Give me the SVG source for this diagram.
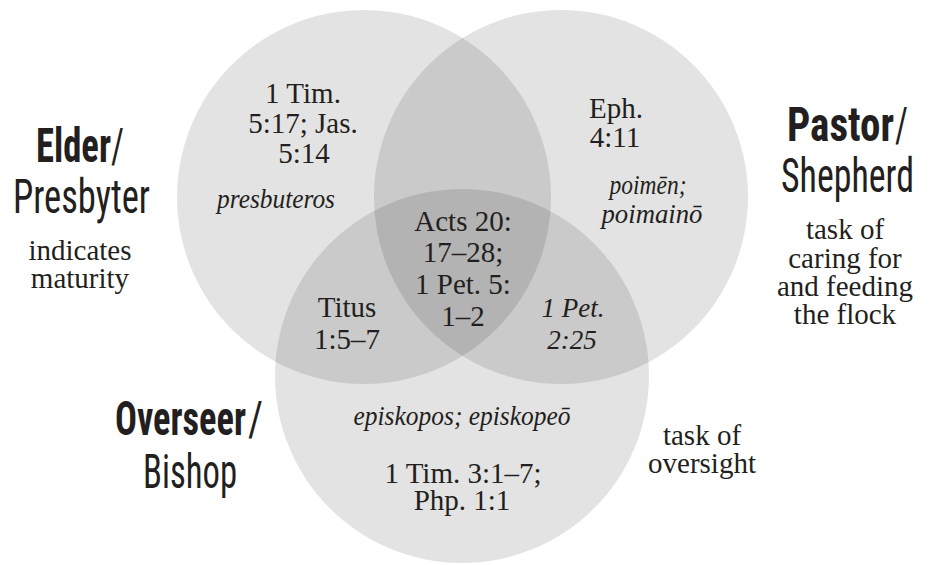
<svg xmlns="http://www.w3.org/2000/svg" width="933" height="565" viewBox="0 0 933 565">
<style>
.c{fill:#000;fill-opacity:0.11}
text{fill:#231f20}
.s{font-family:"Liberation Serif","Times New Roman",serif;font-size:29px;text-anchor:middle}
.i{font-family:"Liberation Serif","Times New Roman",serif;font-size:27px;font-style:italic;text-anchor:middle}
.h{font-family:"Liberation Sans Narrow","Roboto Condensed","DejaVu Sans Condensed","Liberation Sans",sans-serif;font-size:48px}
.m{text-anchor:middle}
.b{font-weight:bold}
</style>
<rect width="933" height="565" fill="#fff"/>
<g id="elder">
<circle class="c" cx="364" cy="197" r="187"/>
<text class="s" x="303" y="103">1 Tim.</text>
<text class="s" x="303" y="133">5:17; Jas.</text>
<text class="s" x="304" y="163">5:14</text>
<text class="i" x="276" y="208" textLength="118" lengthAdjust="spacingAndGlyphs">presbuteros</text>
<text class="h b" x="36" y="162" textLength="75" lengthAdjust="spacingAndGlyphs">Elder</text>
<text class="h" x="111" y="162" textLength="13" lengthAdjust="spacingAndGlyphs">/</text>
<text class="h m" x="81.5" y="213" textLength="137" lengthAdjust="spacingAndGlyphs">Presbyter</text>
<text class="s" x="80" y="260">indicates</text>
<text class="s" x="80" y="288">maturity</text>
</g>
<g id="pastor">
<circle class="c" cx="561" cy="197" r="187"/>
<text class="s" x="616" y="118">Eph.</text>
<text class="s" x="615" y="147">4:11</text>
<text class="i" x="648" y="194" textLength="77" lengthAdjust="spacingAndGlyphs">poimēn;</text>
<text class="i" x="652" y="223" textLength="101" lengthAdjust="spacingAndGlyphs">poimainō</text>
<text class="h b" x="787" y="141" textLength="107" lengthAdjust="spacingAndGlyphs">Pastor</text>
<text class="h" x="895" y="141" textLength="13" lengthAdjust="spacingAndGlyphs">/</text>
<text class="h m" x="847.5" y="192" textLength="133" lengthAdjust="spacingAndGlyphs">Shepherd</text>
<text class="s" x="845" y="239">task of</text>
<text class="s" x="845" y="268">caring for</text>
<text class="s" x="845" y="296">and feeding</text>
<text class="s" x="845" y="324">the flock</text>
</g>
<g id="overseer">
<circle class="c" cx="462" cy="376" r="187"/>
<text class="i" x="462" y="425" textLength="217" lengthAdjust="spacingAndGlyphs">episkopos; episkopeō</text>
<text class="s" x="463" y="483">1 Tim. 3:1–7;</text>
<text class="s" x="462" y="510">Php. 1:1</text>
<text class="h b" x="115" y="435" textLength="131" lengthAdjust="spacingAndGlyphs">Overseer</text>
<text class="h" x="248" y="435" textLength="15" lengthAdjust="spacingAndGlyphs">/</text>
<text class="h m" x="190" y="488" textLength="94" lengthAdjust="spacingAndGlyphs">Bishop</text>
<text class="s" x="702" y="445">task of</text>
<text class="s" x="702" y="473">oversight</text>
</g>
<g id="overlaps">
<text class="s" x="463" y="231">Acts 20:</text>
<text class="s" x="463" y="262">17–28;</text>
<text class="s" x="463" y="294">1 Pet. 5:</text>
<text class="s" x="463" y="326">1–2</text>
<text class="s" x="347" y="317">Titus</text>
<text class="s" x="347" y="349">1:5–7</text>
<text class="i" x="573" y="317">1 Pet.</text>
<text class="i" x="572" y="349">2:25</text>
</g>
<g id="connectors"></g>
</svg>
